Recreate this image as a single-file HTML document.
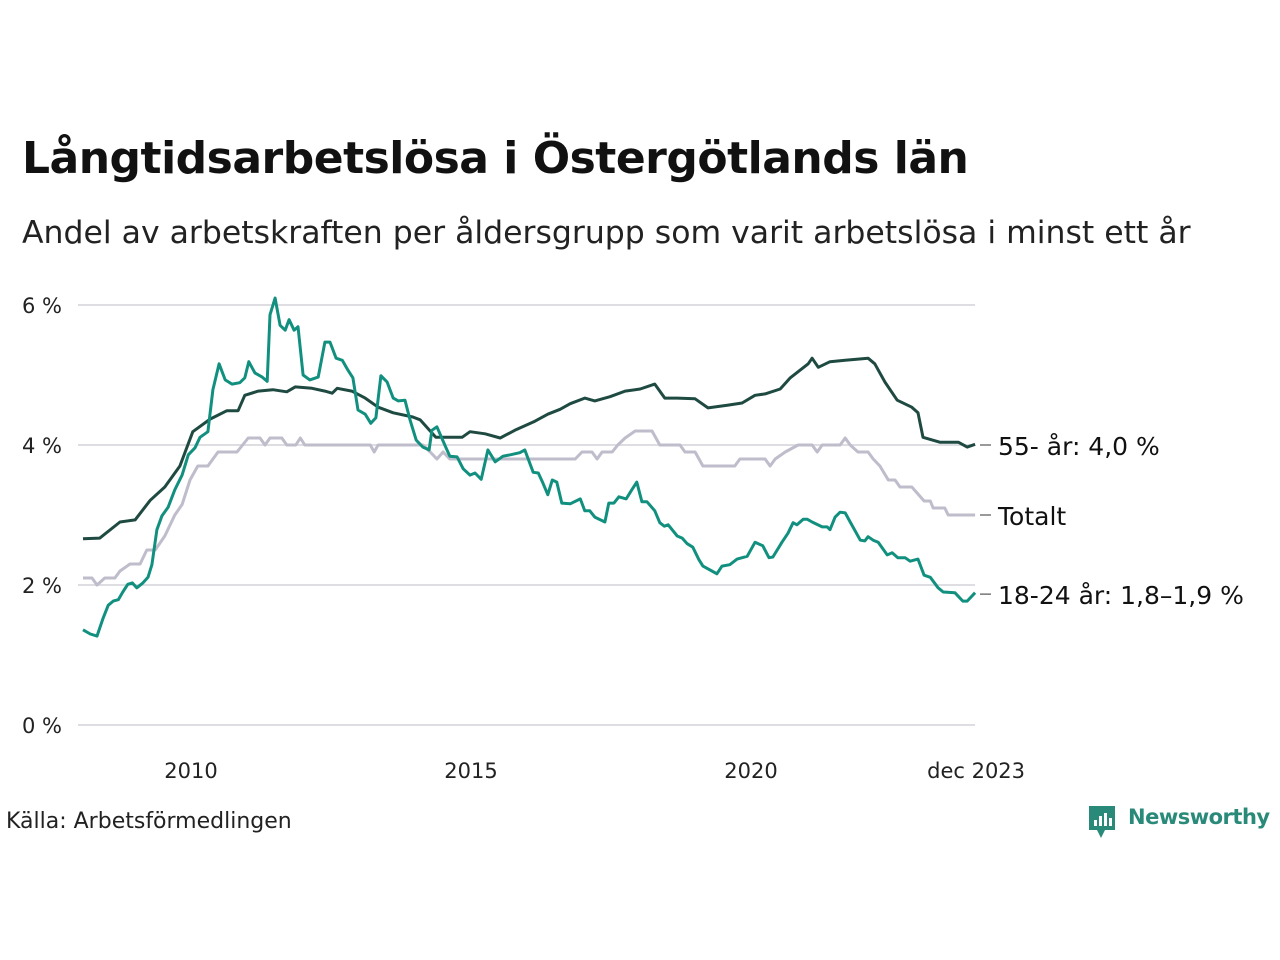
<!DOCTYPE html>
<html><head><meta charset="utf-8">
<style>
body{margin:0;width:1280px;height:960px;background:#fff;font-family:"Liberation Sans","DejaVu Sans",sans-serif;overflow:hidden;position:relative}
.t{position:absolute;white-space:nowrap;color:#111}
</style></head><body>
<div class="t" style="left:22px;top:133px;font-size:44px;font-weight:bold;font-family:'DejaVu Sans',sans-serif;letter-spacing:-0.5px">Långtidsarbetslösa i Östergötlands län</div>
<div class="t" style="left:22px;top:215px;font-size:31.5px;font-family:'DejaVu Sans',sans-serif;color:#222">Andel av arbetskraften per åldersgrupp som varit arbetslösa i minst ett år</div>
<svg id="chart" width="1280" height="960" style="position:absolute;left:0;top:0"></svg>
<div class="t" style="left:6px;top:809px;font-size:22px;font-family:'DejaVu Sans',sans-serif;color:#222">Källa: Arbetsförmedlingen</div>
<div style="position:absolute;left:1088px;top:804px;">
<svg width="30" height="36"><path d="M1 2h26v24H17l-4 8-4-8H1z" fill="#2a8a7a"/><rect x="6" y="16" width="3" height="6" fill="#fff"/><rect x="11" y="12" width="3" height="10" fill="#fff"/><rect x="16" y="9" width="3" height="13" fill="#fff"/><rect x="21" y="14" width="3" height="8" fill="#fff"/></svg>
<span style="position:absolute;left:40px;top:1px;font-size:21px;font-weight:bold;color:#2a8a7a;font-family:'DejaVu Sans',sans-serif;letter-spacing:-0.5px">Newsworthy</span></div>
<script>
const yTicks=[0,2,4,6];
const xTickYears=[2010,2015,2020];
const xTickLabels=["2010","2015","2020","dec 2023"];
const oldYears=[2008.00,2008.30,2008.66,2008.93,2009.20,2009.46,2009.73,2009.96,2010.27,2010.57,2010.77,2010.89,2011.13,2011.39,2011.64,2011.79,2012.09,2012.32,2012.45,2012.54,2012.80,2013.04,2013.27,2013.54,2013.89,2014.02,2014.30,2014.77,2014.91,2015.18,2015.45,2015.71,2016.07,2016.30,2016.52,2016.70,2016.96,2017.14,2017.41,2017.68,2017.95,2018.21,2018.39,2018.61,2018.93,2019.16,2019.52,2019.77,2020.00,2020.18,2020.45,2020.63,2020.95,2021.02,2021.13,2021.34,2021.61,2022.02,2022.14,2022.32,2022.54,2022.80,2022.91,2023.00,2023.30,2023.63,2023.79,2023.93];
const oldValues=[2.66,2.67,2.90,2.93,3.21,3.40,3.70,4.19,4.37,4.49,4.49,4.71,4.77,4.79,4.76,4.83,4.81,4.77,4.74,4.81,4.77,4.67,4.54,4.46,4.40,4.36,4.11,4.11,4.19,4.16,4.10,4.21,4.34,4.44,4.51,4.59,4.67,4.63,4.69,4.77,4.80,4.87,4.67,4.67,4.66,4.53,4.57,4.60,4.71,4.73,4.80,4.96,5.16,5.24,5.11,5.19,5.21,5.24,5.16,4.90,4.64,4.54,4.46,4.11,4.04,4.04,3.97,4.01];
const totYears=[2008.00,2008.16,2008.25,2008.39,2008.57,2008.66,2008.84,2009.02,2009.14,2009.29,2009.46,2009.64,2009.77,2009.91,2010.05,2010.23,2010.41,2010.75,2010.95,2011.16,2011.25,2011.34,2011.55,2011.64,2011.80,2011.88,2011.96,2013.13,2013.20,2013.27,2014.07,2014.20,2014.32,2014.43,2014.55,2016.79,2016.91,2017.09,2017.18,2017.27,2017.45,2017.55,2017.68,2017.86,2018.16,2018.30,2018.66,2018.75,2018.93,2019.07,2019.64,2019.73,2020.18,2020.27,2020.36,2020.54,2020.77,2021.02,2021.11,2021.20,2021.52,2021.61,2021.70,2021.84,2022.02,2022.11,2022.23,2022.38,2022.50,2022.59,2022.80,2022.91,2023.02,2023.13,2023.18,2023.39,2023.45,2023.93];
const totValues=[2.1,2.1,2.0,2.1,2.1,2.2,2.3,2.3,2.5,2.5,2.7,3.0,3.15,3.5,3.7,3.7,3.9,3.9,4.1,4.1,4.0,4.1,4.1,4.0,4.0,4.1,4.0,4.0,3.9,4.0,4.0,3.9,3.8,3.9,3.8,3.8,3.9,3.9,3.8,3.9,3.9,4.0,4.1,4.2,4.2,4.0,4.0,3.9,3.9,3.7,3.7,3.8,3.8,3.7,3.8,3.9,4.0,4.0,3.9,4.0,4.0,4.1,4.0,3.9,3.9,3.8,3.7,3.5,3.5,3.4,3.4,3.3,3.2,3.2,3.1,3.1,3.0,3.0];
const youngYears=[2008.00,2008.13,2008.25,2008.36,2008.45,2008.54,2008.63,2008.71,2008.80,2008.88,2008.96,2009.07,2009.16,2009.23,2009.32,2009.41,2009.52,2009.64,2009.77,2009.88,2010.00,2010.09,2010.23,2010.32,2010.43,2010.54,2010.66,2010.80,2010.89,2010.96,2011.07,2011.20,2011.29,2011.34,2011.43,2011.52,2011.61,2011.68,2011.77,2011.84,2011.93,2012.05,2012.20,2012.32,2012.41,2012.52,2012.63,2012.73,2012.82,2012.91,2013.04,2013.14,2013.23,2013.32,2013.43,2013.54,2013.63,2013.75,2013.84,2013.95,2014.07,2014.18,2014.23,2014.32,2014.46,2014.55,2014.68,2014.79,2014.91,2015.00,2015.11,2015.23,2015.36,2015.50,2015.63,2015.80,2015.89,2016.04,2016.13,2016.21,2016.30,2016.38,2016.46,2016.55,2016.70,2016.88,2016.96,2017.05,2017.14,2017.32,2017.39,2017.48,2017.57,2017.70,2017.80,2017.89,2017.98,2018.07,2018.21,2018.30,2018.38,2018.45,2018.61,2018.70,2018.79,2018.89,2019.00,2019.07,2019.23,2019.32,2019.41,2019.55,2019.68,2019.86,2020.00,2020.14,2020.25,2020.32,2020.48,2020.59,2020.68,2020.75,2020.86,2020.93,2021.02,2021.20,2021.29,2021.34,2021.43,2021.52,2021.61,2021.70,2021.88,2021.96,2022.02,2022.11,2022.20,2022.36,2022.45,2022.55,2022.68,2022.77,2022.91,2023.02,2023.13,2023.27,2023.36,2023.57,2023.71,2023.79,2023.93];
const youngValues=[1.36,1.30,1.27,1.53,1.71,1.77,1.79,1.90,2.01,2.03,1.96,2.03,2.11,2.29,2.79,2.99,3.11,3.36,3.57,3.86,3.96,4.11,4.19,4.79,5.16,4.93,4.87,4.89,4.96,5.19,5.03,4.97,4.91,5.86,6.10,5.71,5.64,5.79,5.64,5.69,5.00,4.93,4.97,5.47,5.47,5.24,5.21,5.07,4.96,4.50,4.44,4.31,4.39,4.99,4.90,4.67,4.63,4.64,4.36,4.07,3.97,3.93,4.21,4.26,4.00,3.84,3.83,3.66,3.57,3.60,3.51,3.93,3.76,3.84,3.86,3.89,3.93,3.61,3.60,3.46,3.29,3.50,3.47,3.17,3.16,3.23,3.06,3.06,2.97,2.90,3.17,3.17,3.26,3.23,3.36,3.47,3.19,3.19,3.06,2.89,2.84,2.86,2.70,2.67,2.59,2.54,2.36,2.27,2.20,2.16,2.27,2.29,2.37,2.41,2.61,2.56,2.39,2.40,2.61,2.74,2.89,2.86,2.94,2.94,2.90,2.83,2.83,2.79,2.97,3.04,3.03,2.90,2.64,2.63,2.69,2.64,2.61,2.43,2.46,2.39,2.39,2.34,2.37,2.14,2.11,1.96,1.90,1.89,1.77,1.77,1.89];
const seriesLabels=["55- år: 4,0 %","Totalt","18-24 år: 1,8–1,9 %"];
const labelValues=[4.0,3.0,1.87];

const NS="http://www.w3.org/2000/svg";
const svg=document.getElementById('chart');
const X0=78,X1=975,Y0=725;
function xs(yr){return 83+(yr-2008)*56;}
function ys(v){return Y0-v*70;}
function mk(tag,attrs){const e=document.createElementNS(NS,tag);for(const k in attrs)e.setAttribute(k,attrs[k]);svg.appendChild(e);return e;}
yTicks.forEach(v=>{
  const l=mk('line',{x1:X0,x2:X1,y1:ys(v),y2:ys(v),stroke:'#dddde2','stroke-width':2});
  
  
  const t=mk('text',{x:22,y:ys(v)+8,'font-size':21,fill:'#222','font-family':'DejaVu Sans, sans-serif'});
  t.textContent=v+' %';
  
  
});
xTickLabels.forEach((s,i)=>{
  const yr=i<xTickYears.length?xTickYears[i]:2023.93;
  const t=mk('text',{x:i<xTickYears.length?xs(yr)-4:xs(yr)+1,y:778,'font-size':21,fill:'#222','text-anchor':'middle','font-family':'DejaVu Sans, sans-serif'});
  t.textContent=s;
  
  
});
function line(xa,va,color,name){
  const d=xa.map((x,i)=>(i?'L':'M')+xs(x).toFixed(1)+','+ys(va[i]).toFixed(1)).join('');
  const p=mk('path',{d:d,fill:'none',stroke:color,'stroke-width':3,'stroke-linejoin':'round'});
  
  
}
line(totYears,totValues,'#bfbccb','line-totalt');
line(oldYears,oldValues,'#1f4a42','line-55-ar');
line(youngYears,youngValues,'#12907f','line-18-24-ar');
seriesLabels.forEach((s,i)=>{
  const y=ys(labelValues[i]);
  const l=mk('line',{x1:980,x2:991,y1:y,y2:y,stroke:'#333','stroke-width':1});
  
  
  const t=mk('text',{x:998,y:y+10,'font-size':25,fill:'#111','font-family':'DejaVu Sans, sans-serif'});
  t.textContent=s;
  
  
});
</script>
</body></html>
